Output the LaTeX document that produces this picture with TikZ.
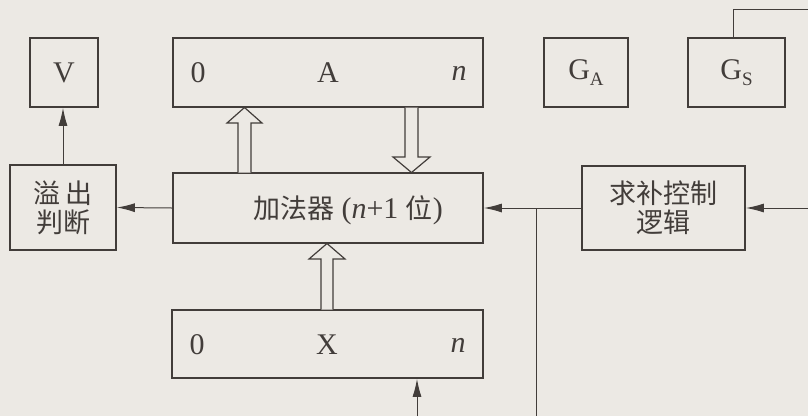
\documentclass[tikz,border=0pt]{standalone}
\usepackage{fontspec}
\setmainfont{Liberation Serif}
\newfontfamily\cjk{Noto Sans CJK SC}
\usetikzlibrary{arrows.meta}
\definecolor{bg}{RGB}{236,233,228}
\definecolor{ink}{RGB}{66,61,58}
\newcommand{\sub}[1]{\raisebox{-0.4ex}{\fontsize{19}{19}\selectfont #1}}
\newcommand{\cj}{\cjk\fontsize{27}{30}\selectfont}
\tikzset{
  box/.style={draw=ink,line width=1.8pt,rectangle,inner sep=0pt,text=ink},
  lbl/.style={text=ink,inner sep=0pt},
  conn/.style={draw=ink,line width=1pt},
  arr/.style={conn,-{Latex[length=18pt,width=9pt]}},
  hollow/.style={draw=ink,line width=1.2pt,line join=miter,fill=bg}
}
\begin{document}
\begin{tikzpicture}[x=1pt,y=-1pt,font=\fontsize{30}{30}\selectfont]
\fill[bg] (0,0) rectangle (808,416);
\useasboundingbox (0,0) rectangle (808,416);
% boxes
\node[box,minimum width=68pt,minimum height=69pt] (V) at (64,72.5) {V};
\node[box,minimum width=310pt,minimum height=69pt] (A) at (328,72.5) {};
\node[box,minimum width=84pt,minimum height=69pt] (GA) at (586,72.5) {G\sub{A}};
\node[box,minimum width=97pt,minimum height=69pt] (GS) at (736.5,72.5) {G\sub{S}};
\node[box,minimum width=310pt,minimum height=70pt] (add) at (328,208) {};
\node[box,minimum width=106pt,minimum height=85pt,align=center] (ovf) at (63,207.5) {\cj 溢\,出\\[-1pt]\cj 判断};
\node[box,minimum width=163pt,minimum height=84pt,align=center] (comp) at (663.5,208) {\cj 求补控制\\[-1pt]\cj 逻辑};
\node[box,minimum width=311pt,minimum height=68pt] (X) at (327.5,344) {};
% labels in registers
\node[lbl] (a0) at (198,73) {0};
\node[lbl] (aA) at (328,73) {A};
\node[lbl] (an) at (459,73) {\itshape n};
\node[lbl] (x0) at (197,345) {0};
\node[lbl] (xX) at (327,345) {X};
\node[lbl] (xn) at (458,345) {\itshape n};
\node[lbl] (addl) at (348,210) {{\cj 加法器} (\textit{n}+1 {\cj 位})};
% connectors
\draw[arr] (add.west) -- (ovf.east);
\draw[arr] (ovf.north) -- (ovf.north |- V.south);
\draw[arr] (comp.west) -- (add.east);
\coordinate (br) at (536,208);
\coordinate (brb) at (536,416);
\draw[conn] (br) -- (brb);
\coordinate (cin) at (808,208);
\draw[arr] (cin) -- (comp.east);
\coordinate (gsn) at (733,107);
\coordinate (gst) at (733,9);
\coordinate (gsr) at (808,9);
\draw[conn] (gsn |- GS.north) -- (gst) -- (gsr);
\coordinate (xin) at (417,416);
\draw[arr] (xin) -- (xin |- X.south);
% hollow bus arrows
\draw[hollow] (238,172.5) -- (238,123) -- (227,123) -- (244.5,107.5) -- (262,123) -- (251,123) -- (251,172.5);
\draw[hollow] (405,107.5) -- (405,157) -- (393,157) -- (411.5,172.5) -- (430,157) -- (418,157) -- (418,107.5);
\draw[hollow] (321,309.5) -- (321,259) -- (309,259) -- (327,243.5) -- (345,259) -- (333,259) -- (333,309.5);
\end{tikzpicture}
\end{document}
